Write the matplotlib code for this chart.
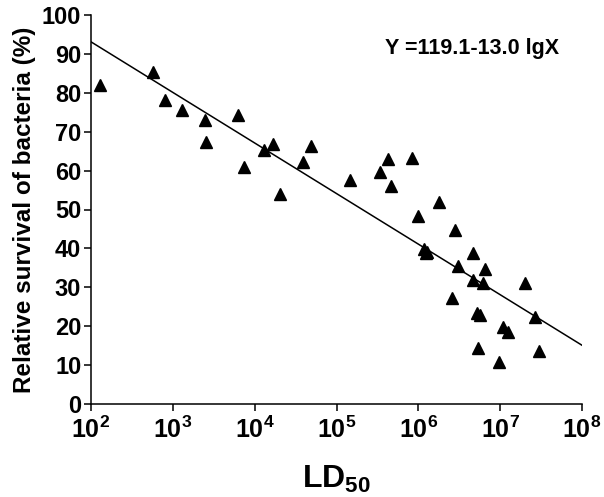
import numpy as np
import matplotlib
matplotlib.use("Agg")
import matplotlib.pyplot as plt

plt.rcParams['font.family'] = ['Liberation Sans', 'DejaVu Sans']
plt.rcParams['font.weight'] = 'bold'
plt.rcParams['mathtext.fontset'] = 'custom'
plt.rcParams['mathtext.bf'] = 'Liberation Sans:bold'
plt.rcParams['mathtext.rm'] = 'Liberation Sans:bold'

lg_ld50 = [2.11, 2.76, 2.91, 3.11, 3.39, 3.41, 3.80, 3.87, 4.11, 4.23,
           4.31, 4.59, 4.69, 5.17, 5.53, 5.63, 5.66, 5.92, 6.25, 5.99,
           6.45, 6.07, 6.09, 6.10, 6.67, 6.48, 6.82, 6.67, 6.79, 7.30,
           6.41, 6.72, 6.75, 7.42, 7.03, 7.10, 6.73, 7.47, 6.98]
survival = [82.0, 85.3, 78.1, 75.5, 72.9, 67.3, 74.4, 61.0, 65.4, 66.8,
            54.0, 62.1, 66.2, 57.6, 59.6, 63.1, 56.0, 63.3, 52.0, 48.4,
            44.7, 39.8, 38.9, 39.2, 38.7, 35.6, 34.6, 31.9, 31.0, 31.0,
            27.2, 23.5, 22.9, 22.3, 19.7, 18.4, 14.4, 13.5, 10.8]

# fitted line Y = 119.1 - 13.0 lgX
intercept = 119.1
slope = -13.0
fit_range = [2, 8]

x_ticks = [2, 3, 4, 5, 6, 7, 8]
y_ticks = [0, 10, 20, 30, 40, 50, 60, 70, 80, 90, 100]

fig = plt.figure(figsize=(6.04, 4.97), dpi=100)
ax = fig.add_axes([91/604, 93/497, 491/604, 389/497])

x = 10.0 ** np.array(lg_ld50)
ax.plot(x, survival, linestyle='none', marker='^', color='black', markersize=8)

fx = np.linspace(fit_range[0], fit_range[1], 50)
ax.plot(10.0 ** fx, intercept + slope * fx, color='black', linewidth=1.1)

ax.set_xscale('log')
ax.set_xlim(10.0 ** x_ticks[0], 10.0 ** x_ticks[-1])
ax.set_ylim(0, 100)
ax.set_xticks([10.0 ** t for t in x_ticks])
ax.set_xticklabels([r'$\mathbf{10^{%d}}$' % t for t in x_ticks])
ax.xaxis.set_minor_locator(matplotlib.ticker.NullLocator())
ax.set_yticks(y_ticks)
ax.set_yticklabels([str(t) for t in y_ticks])

for s in ['top', 'right']:
    ax.spines[s].set_visible(False)
for s in ['left', 'bottom']:
    ax.spines[s].set_linewidth(1.1)
ax.tick_params(direction='out', length=5, width=1.1, labelsize=17, pad=2)
ax.tick_params(axis='x', labelsize=18, pad=4)

ax.set_ylabel('Relative survival of bacteria (%)', fontsize=17.5, fontweight='bold', labelpad=4)
ax.set_xlabel(r'$\mathbf{LD_{50}}$', fontsize=23, labelpad=15)

ax.text(0.599, 0.915, 'Y =119.1-13.0 lgX', transform=ax.transAxes,
        fontsize=15.5, fontweight='bold', ha='left', va='center')

fig.savefig('out.png', dpi=100)
